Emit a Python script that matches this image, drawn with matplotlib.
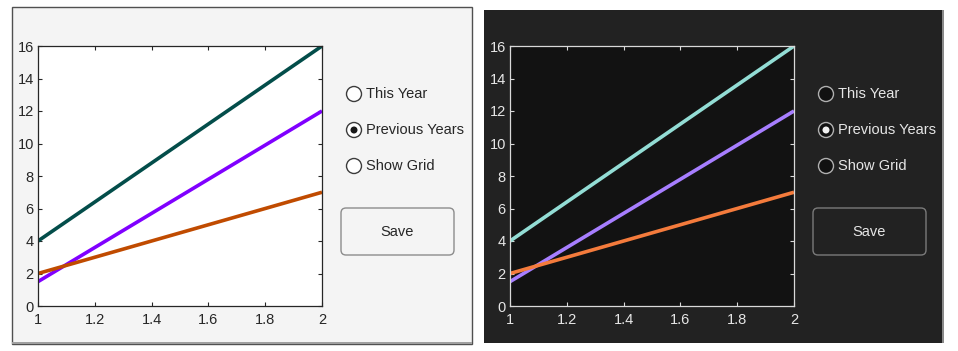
import matplotlib
matplotlib.use('Agg')
import matplotlib.pyplot as plt
from matplotlib.patches import Rectangle, Circle, FancyBboxPatch

plt.rcParams['font.family'] = ['Liberation Sans', 'DejaVu Sans']

# data
x_vals = [1, 2]
series_top = [4, 16]
series_mid = [1.5, 12]
series_low = [2, 7]
x_ticks = [1, 1.2, 1.4, 1.6, 1.8, 2]
x_tick_labels = ['1', '1.2', '1.4', '1.6', '1.8', '2']
y_ticks = [0, 2, 4, 6, 8, 10, 12, 14, 16]
radio_labels = ['This Year', 'Previous Years', 'Show Grid']
radio_selected = 1
button_label = 'Save'

themes = {
    'light': {
        'offset': 0, 'panel': '#f4f4f4', 'panel_edge': '#505050',
        'axes_bg': '#ffffff', 'fg': '#262626', 'text': '#262626',
        'lines': ['#034d4a', '#8000ff', '#c04b00'],
        'radio_fill': '#ffffff', 'radio_edge': '#3c3c3c', 'dot': '#1a1a1a',
        'btn_fill': '#f4f4f4', 'btn_edge': '#8c8c8c',
    },
    'dark': {
        'offset': 472, 'panel': '#222222', 'panel_edge': '#8a8a8a',
        'axes_bg': '#121212', 'fg': '#d9d9d9', 'text': '#e6e6e6',
        'lines': ['#93ddd5', '#a77eff', '#f47b3c'],
        'radio_fill': '#111111', 'radio_edge': '#b0b0b0', 'dot': '#f0f0f0',
        'btn_fill': '#222222', 'btn_edge': '#7a7a7a',
    },
}

W, H = 958, 351
fig = plt.figure(figsize=(W / 100, H / 100), dpi=100)
fig.patch.set_facecolor('white')

# pixel-space canvas for the UI bits
ui = fig.add_axes([0, 0, 1, 1], zorder=0)
ui.set_xlim(0, W)
ui.set_ylim(H, 0)
ui.axis('off')

# panels
ui.add_patch(Rectangle((12, 7), 460, 337, facecolor=themes['light']['panel'],
                       edgecolor=themes['light']['panel_edge'], linewidth=1))
ui.add_patch(Rectangle((12, 342), 460, 2, facecolor='#a0a0a0', edgecolor='none'))
ui.add_patch(Rectangle((484, 10), 459, 333, facecolor=themes['dark']['panel'],
                       edgecolor='none'))
ui.add_patch(Rectangle((942, 10), 2, 333, facecolor=themes['dark']['panel_edge'],
                       edgecolor='none'))

for name, t in themes.items():
    off = t['offset']

    # radio buttons
    for i, lbl in enumerate(radio_labels):
        cy = 94 + 36 * i
        ui.add_patch(Circle((354 + off, cy), 7.5, facecolor=t['radio_fill'],
                            edgecolor=t['radio_edge'], linewidth=1))
        if i == radio_selected:
            ui.add_patch(Circle((354 + off, cy), 3.5, facecolor=t['dot'],
                                edgecolor='none'))
        ui.text(366 + off, cy + 0.5, lbl, fontsize=10.5, color=t['text'],
                va='center', ha='left')

    # save button
    ui.add_patch(FancyBboxPatch((341 + off, 208), 113, 47,
                                boxstyle='round,pad=0,rounding_size=5',
                                facecolor=t['btn_fill'], edgecolor=t['btn_edge'],
                                linewidth=1))
    ui.text(397.5 + off, 231.5, button_label, fontsize=10.5, color=t['text'],
            ha='center', va='center')

    # plot axes
    left, right, top, bottom = 38 + off, 322 + off, 46, 306
    ax = fig.add_axes([left / W, (H - bottom) / H, (right - left) / W, (bottom - top) / H],
                      zorder=2)
    ax.set_facecolor(t['axes_bg'])
    for series, color in zip([series_top, series_mid, series_low], t['lines']):
        ax.plot(x_vals, series, color=color, linewidth=2.6, solid_capstyle='butt')
    ax.set_xlim(1, 2)
    ax.set_ylim(0, 16)
    ax.set_xticks(x_ticks)
    ax.set_xticklabels(x_tick_labels)
    ax.set_yticks(y_ticks)
    ax.tick_params(direction='in', length=3, width=0.8, colors=t['fg'],
                   labelcolor=t['text'], labelsize=10.5, top=True, right=True, pad=3)
    ax.tick_params(axis='x', pad=5)
    for sp in ax.spines.values():
        sp.set_color(t['fg'])
        sp.set_linewidth(0.9)

fig.savefig('out.png', dpi=100, facecolor='white')
